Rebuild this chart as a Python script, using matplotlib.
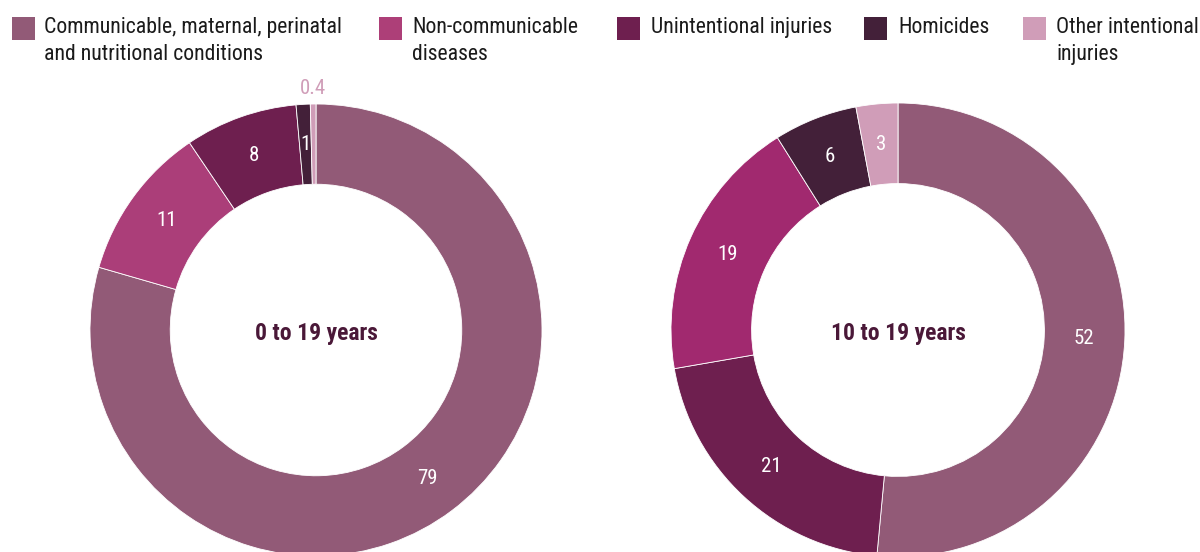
import matplotlib
matplotlib.use("Agg")
import matplotlib.pyplot as plt
from matplotlib import font_manager
from matplotlib.patches import Rectangle

# Prefer a narrow sans face if one is installed
narrow = None
for f in font_manager.fontManager.ttflist:
    if f.name in ("Liberation Sans Narrow", "Roboto Condensed", "Open Sans Condensed"):
        narrow = (f.name, "normal")
        break
if narrow is None:
    for f in font_manager.fontManager.ttflist:
        if f.name in ("DejaVu Sans", "Roboto", "Noto Sans", "Open Sans") and \
                str(f.stretch) in ("condensed", "semi-condensed", "75", "87"):
            narrow = (f.name, f.stretch)
            break

if narrow is not None:
    plt.rcParams['font.family'] = [narrow[0], 'DejaVu Sans']
    plt.rcParams['font.stretch'] = narrow[1]
    scale = 1.0
else:
    plt.rcParams['font.family'] = ['DejaVu Sans']
    scale = 0.82

# Legend categories
categories = [
    "Communicable, maternal, perinatal\nand nutritional conditions",
    "Non-communicable\ndiseases",
    "Unintentional injuries",
    "Homicides",
    "Other intentional\ninjuries",
]
legend_colors = ["#925A77", "#AD3F78", "#6E1F4F", "#432039", "#D09DB8"]

# Age group 0 to 19 years (clockwise from 12 o'clock)
left_title = "0 to 19 years"
left_labels = ["79", "11", "8", "1", "0.4"]
left_values = [79, 11, 8, 1, 0.4]
left_colors = ["#925A77", "#AB3E79", "#6E1F4F", "#432039", "#D09DB8"]

# Age group 10 to 19 years (clockwise from 12 o'clock)
right_title = "10 to 19 years"
right_labels = ["52", "21", "19", "6", "3"]
right_values = [52, 21, 19, 6, 3]
right_colors = ["#925A77", "#6E1F4F", "#A1296F", "#432039", "#D09DB8"]

W, H = 1200, 552
fig = plt.figure(figsize=(W / 100, H / 100), dpi=100)
fig.patch.set_facecolor("white")

title_color = "#4A1838"


def donut(cx, cy, r, values, labels, colors, title, outside=()):
    ax = fig.add_axes([(cx - r) / W, (H - cy - r) / H, 2 * r / W, 2 * r / H])
    wedges, texts = ax.pie(
        values, colors=colors, labels=labels, startangle=90, counterclock=False,
        radius=1.0, labeldistance=0.82,
        wedgeprops=dict(width=0.355, edgecolor="white", linewidth=0.6),
        textprops=dict(color="white", fontsize=15 * scale, ha="center", va="center"),
    )
    for i in outside:
        x, y = texts[i].get_position()
        f = 1.07 / 0.82
        texts[i].set_position((x * f, y * f))
        texts[i].set_color(colors[i])
    ax.text(0, -0.015, title, ha="center", va="center", fontsize=17 * scale,
            fontweight="bold", color=title_color)
    ax.set_xlim(-1, 1)
    ax.set_ylim(-1, 1)
    ax.set_aspect("equal")
    ax.axis("off")
    return ax


donut(316, 330, 226, left_values, left_labels, left_colors, left_title, outside=(4,))
donut(898, 330, 227, right_values, right_labels, right_colors, right_title)

# Legend drawn along the top
sq_x = [12, 379, 617, 864, 1023]
txt_x = [44, 412, 651, 898, 1056]
for name, col, sx, tx in zip(categories, legend_colors, sq_x, txt_x):
    fig.patches.append(Rectangle((sx / W, 1 - 40 / H), 23 / W, 23 / H,
                                 transform=fig.transFigure, facecolor=col,
                                 edgecolor="none"))
    fig.text(tx / W, 1 - 17 / H, name, ha="left", va="top", fontsize=15.7 * scale,
             color="#1a1a1a", linespacing=1.36 / scale)

fig.savefig("out.png", dpi=100)
